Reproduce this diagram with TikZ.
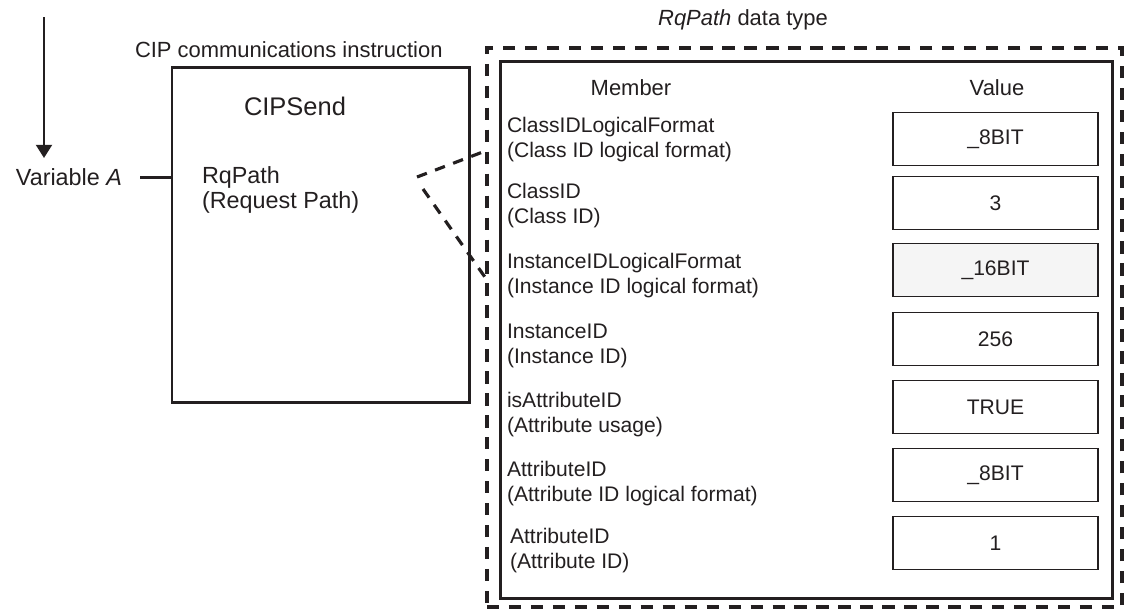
\documentclass[tikz,border=0pt]{standalone}
\usepackage{fontspec}
\setmainfont{Liberation Sans}
\usetikzlibrary{arrows.meta}
\definecolor{ink}{HTML}{231F20}
\begin{document}
\begin{tikzpicture}[x=0.02cm,y=-0.02cm,
  every node/.style={text=ink, inner sep=0pt, outer sep=0pt},
  heavy/.style={draw=ink, line width=1.7pt},
  dashbox/.style={draw=ink, line width=1.8pt, dash pattern=on 7pt off 5.5pt},
  dashconn/.style={draw=ink, line width=1.8pt, dash pattern=on 6pt off 5pt},
  valbox/.style={draw=ink, line width=1.1pt, minimum width={205*0.02cm}, minimum height={53*0.02cm}, font=\fontsize{12}{14}\selectfont},
  memlabel/.style={anchor=west, align=left, font=\fontsize{12}{14.2}\selectfont},
  head/.style={font=\fontsize{12.5}{15}\selectfont},
  big/.style={font=\fontsize{13.3}{14.5}\selectfont}]
\useasboundingbox (0,0) rectangle (1125,610);

% arrow
\coordinate (arrtop) at (44,17);
\coordinate (arrtip) at (44,158);
\draw[draw=ink, line width=1.5pt, -{Triangle[width=9pt,length=7.5pt]}] (arrtop) -- (arrtip);

% instruction
\node[head, anchor=west] (ciptitle) at (135,50) {CIP communications instruction};
\node[heavy, minimum width={297*0.02cm}, minimum height={335*0.02cm}] (cip) at (320.5,234.5) {};
\node[font=\fontsize{14.5}{16}\selectfont] (cipsend) at (295,106) {CIPSend};
\node[big, anchor=east] (varA) at (122,177) {Variable \textit{A}};
\draw[heavy] ([xshift={18*0.02cm}]varA.east) -- (varA.east -| cip.west);
\node[big, anchor=west, align=left, font=\fontsize{13.3}{14.2}\selectfont] (rq) at (202,190) {RqPath\\(Request Path)};

% data type
\node[head] (dttitle) at (743,20) {\textit{RqPath} data type};
\node[dashbox, minimum width={635*0.02cm}, minimum height={559*0.02cm}] (dtype) at (804.5,327.5) {};
\node[heavy, minimum width={612*0.02cm}, minimum height={537*0.02cm}] (inner) at (806,329.5) {};
\node[head] (member) at (631,88) {Member};
\node[head] (value) at (997,88) {Value};

% connectors
\coordinate (c1) at (417,177);
\coordinate (c2) at (423,189);
\coordinate (d1) at (488,150);
\coordinate (d2) at (487,280);
\draw[dashconn] (c1) -- (d1);
\draw[dashconn] (c2) -- (d2);

% rows
\node[memlabel] (m1) at (507,140) {ClassIDLogicalFormat\\(Class ID logical format)};
\node[memlabel] (m2) at (507,206) {ClassID\\(Class ID)};
\node[memlabel] (m3) at (507,276) {InstanceIDLogicalFormat\\(Instance ID logical format)};
\node[memlabel] (m4) at (507,346) {InstanceID\\(Instance ID)};
\node[memlabel] (m5) at (507,415) {isAttributeID\\(Attribute usage)};
\node[memlabel] (m6) at (507,484) {AttributeID\\(Attribute ID logical format)};
\node[memlabel] (m7) at (510,551) {AttributeID\\(Attribute ID)};

\node[valbox] (v1) at (995.5,139) {\_8BIT};
\node[valbox] (v2) at (995.5,203) {3};
\node[valbox, fill=black!4] (v3) at (995.5,270) {\_16BIT};
\node[valbox] (v4) at (995.5,339) {256};
\node[valbox] (v5) at (995.5,407) {TRUE};
\node[valbox] (v6) at (995.5,475) {\_8BIT};
\node[valbox] (v7) at (995.5,543) {1};
\end{tikzpicture}
\end{document}
